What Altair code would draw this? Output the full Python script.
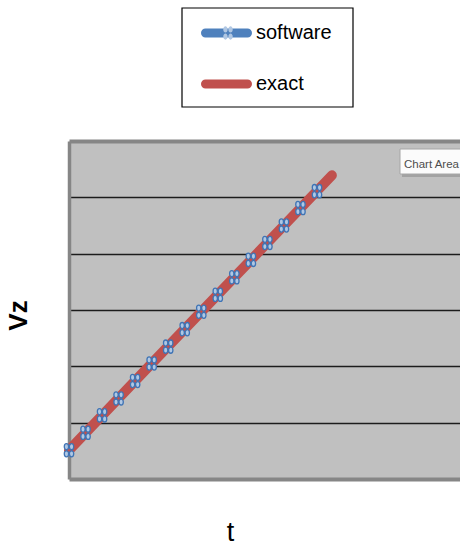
import altair as alt
import pandas as pd

# Sampled solution from the software (one point per time step)
t_software = list(range(16))
vz_software = [0.51, 0.82, 1.13, 1.43, 1.74, 2.05, 2.35, 2.66,
               2.97, 3.27, 3.58, 3.89, 4.19, 4.50, 4.81, 5.11]

# Exact solution
t_exact = [0, 5, 10, 15.9]
vz_exact = [0.51, 2.05, 3.58, 5.39]

series_names = ["software", "exact"]
series_colors = ["#4f81bd", "#c0504d"]
grid_values = [1, 2, 3, 4, 5, 6]
tip_label = ["Chart Area"]


def ellipse(cx, cy, rx, ry):
    return (f"M{cx - rx:.3f},{cy:.3f} A{rx:.3f},{ry:.3f} 0 1 0 {cx + rx:.3f},{cy:.3f} "
            f"A{rx:.3f},{ry:.3f} 0 1 0 {cx - rx:.3f},{cy:.3f} Z ")


def capsule(x0, x1, r):
    return (f"M{x0 + r:.3f},{-r:.3f} L{x1 - r:.3f},{-r:.3f} "
            f"A{r:.3f},{r:.3f} 0 0 1 {x1 - r:.3f},{r:.3f} L{x0 + r:.3f},{r:.3f} "
            f"A{r:.3f},{r:.3f} 0 0 1 {x0 + r:.3f},{-r:.3f} Z")


# marker: four small rings in a 2x2 cluster
MARKER = "".join(ellipse(sx * 0.32, sy * 0.45, 0.27, 0.38)
                 for sx in (-1, 1) for sy in (-1, 1))
# legend swatch: a rounded thick line
LEGEND_LINE = capsule(-0.5, 6.071, 0.2857)

software = pd.DataFrame({"t": t_software, "vz": vz_software,
                         "series": "software", "marker": "software"})
exact = pd.DataFrame({"t": t_exact, "vz": vz_exact, "series": "exact"})
tip = pd.DataFrame({"label": tip_label})

FONT = "Liberation Sans"
GRAY = "#868686"

x_enc = alt.X(
    "t:Q",
    scale=alt.Scale(domain=[0, 23.65], nice=False, zero=False),
    axis=alt.Axis(title="t", titleFont=FONT, titleFontSize=27,
                  titleFontWeight="normal", titleColor="black",
                  titleX=161, titleY=61, titleBaseline="alphabetic",
                  domain=True, domainColor=GRAY, domainWidth=4,
                  ticks=False, labels=False, grid=False),
)
y_enc = alt.Y(
    "vz:Q",
    scale=alt.Scale(domain=[0, 6], nice=False),
    axis=alt.Axis(title="Vz", titleFont=FONT, titleFontSize=26,
                  titleFontWeight="bold", titleColor="black",
                  titleAngle=270, titleX=-51, titleY=174,
                  titleAlign="center", titleBaseline="middle",
                  values=grid_values, grid=True,
                  gridColor={"condition": {"test": "datum.value == 6", "value": GRAY},
                             "value": "#1c1c1c"},
                  gridWidth={"condition": {"test": "datum.value == 6", "value": 4},
                             "value": 1.6},
                  domain=True, domainColor=GRAY, domainWidth=3.5,
                  ticks=False, labels=False),
)
color_enc = alt.Color(
    "series:N",
    scale=alt.Scale(domain=series_names, range=series_colors),
    legend=alt.Legend(orient="none", legendX=113, legendY=-133, title=None,
                      padding=15,
                      symbolType=LEGEND_LINE, symbolSize=196,
                      symbolStrokeWidth=5, symbolOpacity=1,
                      labelFont=FONT, labelFontSize=20, labelColor="black",
                      labelOffset=39, rowPadding=25),
)

# frame around the legend entries
legend_frame = alt.Chart(tip).mark_rect(
    fill="white", stroke="black", strokeWidth=1.2
).encode(x=alt.value(113), x2=alt.value(284), y=alt.value(-133), y2=alt.value(-34))

software_line = alt.Chart(software).mark_line(strokeWidth=6).encode(
    x=x_enc, y=y_enc, color=color_enc)

exact_line = alt.Chart(exact).mark_line(
    strokeWidth=10, strokeCap="round", strokeJoin="round"
).encode(x=x_enc, y=y_enc, color=color_enc)

markers = alt.Chart(software).mark_point(
    filled=True, fill="#b0c7e3", stroke="#3f74b5", strokeWidth=1.3,
    size=256, opacity=1
).encode(
    x=x_enc, y=y_enc,
    shape=alt.Shape("marker:N",
                    scale=alt.Scale(domain=["software"], range=[MARKER]),
                    legend=alt.Legend(orient="none", legendX=150, legendY=-117,
                                      title=None, padding=0,
                                      symbolFillColor="#b0c7e3",
                                      symbolStrokeColor="#3f74b5",
                                      symbolStrokeWidth=1.3, symbolSize=256,
                                      symbolOpacity=1,
                                      labelFontSize=1, labelOpacity=0)),
)

# "Chart Area" hover label in the top-right corner
tip_shadow = alt.Chart(tip).mark_rect(fill="#7f7f7f", opacity=0.45).encode(
    x=alt.value(333), x2=alt.value(405), y=alt.value(11), y2=alt.value(36))
tip_box = alt.Chart(tip).mark_rect(fill="#fbfbfb", stroke="#a6a6a6", strokeWidth=1).encode(
    x=alt.value(331), x2=alt.value(405), y=alt.value(8), y2=alt.value(33))
tip_text = alt.Chart(tip).mark_text(
    align="left", baseline="alphabetic", font=FONT,
    fontSize=11.5, color="#4d4d4d"
).encode(x=alt.value(335), y=alt.value(27), text="label:N")

chart = alt.layer(
    legend_frame, software_line, exact_line, markers, tip_shadow, tip_box, tip_text
).properties(
    width=391, height=338,
    autosize=alt.AutoSizeParams(type="none"),
    padding={"left": 69, "top": 141, "right": 0, "bottom": 66},
    background="white",
).configure_view(fill="#c0c0c0", stroke="transparent")

chart.save("out.html", embed_options={"renderer": "svg", "actions": False})
